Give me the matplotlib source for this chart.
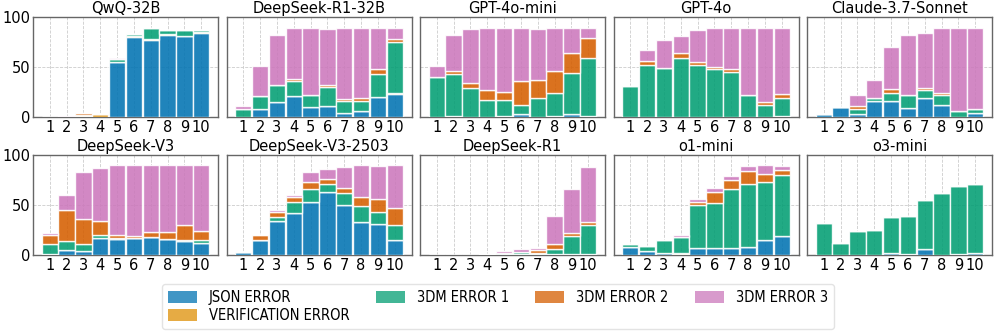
import matplotlib
matplotlib.use("Agg")
import matplotlib.pyplot as plt
from matplotlib.patches import Patch
from matplotlib import font_manager as fm
import numpy as np

models = ["QwQ-32B", "DeepSeek-R1-32B", "GPT-4o-mini", "GPT-4o", "Claude-3.7-Sonnet",
          "DeepSeek-V3", "DeepSeek-V3-2503", "DeepSeek-R1", "o1-mini", "o3-mini"]
x_labels = ["1", "2", "3", "4", "5", "6", "7", "8", "9", "10"]
series_names = ["JSON ERROR", "VERIFICATION ERROR", "3DM ERROR 1", "3DM ERROR 2", "3DM ERROR 3"]

json_err = {
    "QwQ-32B":           [0, 0, 1, 0, 55, 80, 77, 82, 81, 84],
    "DeepSeek-R1-32B":   [0, 8, 15, 21, 10, 11, 4, 6, 20, 23],
    "GPT-4o-mini":       [0, 1, 0, 0, 1, 3, 0.5, 1, 3, 1],
    "GPT-4o":            [0, 0, 0, 0, 0, 0, 0, 0, 0, 1],
    "Claude-3.7-Sonnet": [3, 10, 3, 16, 16, 9, 19, 12, 0, 4],
    "DeepSeek-V3":       [1, 5, 4, 17, 16, 17, 18, 16, 14, 12],
    "DeepSeek-V3-2503":  [3, 15, 34, 42, 53, 63, 50, 33, 31, 15],
    "DeepSeek-R1":       [0, 0, 0, 0, 0, 0, 0, 0, 0, 0],
    "o1-mini":           [8, 4, 2, 1, 7, 7, 7, 8, 15, 19],
    "o3-mini":           [0, 0, 0, 0, 2, 1, 6, 0.5, 1, 2],
}
verif_err = {
    "QwQ-32B":           [0, 0, 1, 3, 0, 1, 1, 1, 0, 1],
    "DeepSeek-R1-32B":   [0, 0, 0, 0, 0, 0, 0, 0, 0, 1],
    "GPT-4o-mini":       [0, 0, 0, 0, 0, 0, 0, 0, 0, 0],
    "GPT-4o":            [0, 0, 0, 0, 0, 0, 0, 0, 0, 0],
    "Claude-3.7-Sonnet": [0, 0, 0, 0, 0, 0, 0, 0, 0, 0],
    "DeepSeek-V3":       [0, 0, 0, 0, 0, 0, 0, 0, 0, 0],
    "DeepSeek-V3-2503":  [0, 0, 0, 0, 0, 0, 0, 0, 0, 0],
    "DeepSeek-R1":       [0, 0, 0, 1.5, 1, 1, 1, 1, 1, 1],
    "o1-mini":           [0, 0, 0, 1, 0, 0, 0, 0, 0, 0],
    "o3-mini":           [0, 0, 0, 0, 0, 0, 0, 0, 0, 0],
}
dm1_err = {
    "QwQ-32B":           [0, 0, 0, 0, 3, 2, 11, 4.5, 6.5, 2],
    "DeepSeek-R1-32B":   [8, 13.5, 17, 15, 12, 19, 12, 10, 23, 51],
    "GPT-4o-mini":       [40, 42, 29, 17, 16, 9, 19, 23, 41, 58],
    "GPT-4o":            [31, 52, 49, 59, 52, 48, 45, 22, 12, 18],
    "Claude-3.7-Sonnet": [0, 0, 5, 3, 8, 13, 8, 10, 6, 4],
    "DeepSeek-V3":       [10, 9, 7, 3, 1, 0, 0, 0, 1, 3],
    "DeepSeek-V3-2503":  [0, 0, 4, 11, 13, 8, 12, 16, 12, 15],
    "DeepSeek-R1":       [0, 0, 0, 0, 1, 2, 1, 5, 18, 29],
    "o1-mini":           [3, 5, 13, 16, 43, 45, 59, 63, 58, 61],
    "o3-mini":           [32, 12, 24, 25, 36, 38, 49, 62, 68, 69],
}
dm2_err = {
    "QwQ-32B":           [0, 0, 2, 0, 0, 0, 0, 0, 0, 0],
    "DeepSeek-R1-32B":   [0, 0, 0, 2, 0, 2, 2, 3, 5, 3],
    "GPT-4o-mini":       [0, 3, 5, 10, 8, 24, 18, 22, 20, 20],
    "GPT-4o":            [0, 4, 0, 5, 3, 2, 3, 0, 3, 4],
    "Claude-3.7-Sonnet": [0, 0, 3, 0, 4, 0, 2, 2, 0, 0],
    "DeepSeek-V3":       [9, 31, 25, 14, 3, 2, 5, 7, 15, 9],
    "DeepSeek-V3-2503":  [0, 5, 5, 5, 7, 5, 5, 9, 13, 17],
    "DeepSeek-R1":       [0, 0, 0, 0, 0, 0, 3, 5, 3, 3],
    "o1-mini":           [0, 0, 0, 0, 3, 11, 9, 13, 8, 5],
    "o3-mini":           [0, 0, 0, 0, 0, 0, 0, 0, 0, 0],
}
dm3_err = {
    "QwQ-32B":           [0, 1, 0, 0, 1, 0, 0, 0, 0, 0],
    "DeepSeek-R1-32B":   [3, 30, 50, 51, 67, 56, 71, 70, 41, 11],
    "GPT-4o-mini":       [11, 36, 54, 62, 64, 53, 51, 43, 25, 10],
    "GPT-4o":            [0, 11, 28, 17, 32, 39, 41, 67, 74, 66],
    "Claude-3.7-Sonnet": [0, 0, 11, 18, 42, 60, 55, 65, 83, 81],
    "DeepSeek-V3":       [2, 15, 47, 53, 70, 71, 67, 67, 60, 66],
    "DeepSeek-V3-2503":  [0, 0, 2, 2, 10, 10, 21, 32, 33, 43],
    "DeepSeek-R1":       [0, 0, 0, 0, 2.5, 3.5, 2, 28, 44, 55],
    "o1-mini":           [0, 0, 0, 2, 3, 4, 4, 5, 9, 4],
    "o3-mini":           [0, 0, 0, 0, 0, 0, 0, 0, 0, 0],
}

series_data = [json_err, verif_err, dm1_err, dm2_err, dm3_err]
colors = ["#0173B2", "#DE8F05", "#029E73", "#D55E00", "#CC78BC"]

plt.rcParams["font.family"] = ["DejaVu Sans"]

# find a condensed sans font for the legend
legend_prop = None
cands = fm.findSystemFonts()
for key in ["DejaVuSansCondensed.ttf", "LiberationSansNarrow-Regular.ttf"]:
    for f in cands:
        if f.endswith(key):
            legend_prop = fm.FontProperties(fname=f, size=10.5)
            break
    if legend_prop is not None:
        break
if legend_prop is None:
    legend_prop = fm.FontProperties(family="DejaVu Sans", size=9)

W, H = 996, 332
fig = plt.figure(figsize=(W / 100, H / 100), dpi=100)

ax_w = 185
lefts = [33 + i * 193.5 for i in range(5)]
tops = [17, 155]
ax_h = 100

x = np.arange(1, 11)
for idx, m in enumerate(models):
    r, c = divmod(idx, 5)
    ax = fig.add_axes([lefts[c] / W, (H - tops[r] - ax_h) / H, ax_w / W, ax_h / H])
    bottom = np.zeros(10)
    for s, col in zip(series_data, colors):
        vals = np.array(s[m], dtype=float)
        ax.bar(x, vals, width=0.97, bottom=bottom, color=col, alpha=0.88,
               edgecolor="white", linewidth=1.0, zorder=3)
        bottom += vals
    ax.set_ylim(0, 100)
    ax.set_xlim(0, 11)
    ax.set_xticks(x)
    ax.set_xticklabels(x_labels, fontsize=10.5)
    ax.set_yticks([0, 50, 100])
    if c == 0:
        ax.set_yticklabels(["0", "50", "100"], fontsize=10.5)
    else:
        ax.set_yticklabels([])
    ax.tick_params(length=0, pad=2)
    ax.grid(True, linestyle="--", color="#cccccc", linewidth=0.6, zorder=0)
    for sp in ax.spines.values():
        sp.set_color("#666666")
        sp.set_linewidth(1.0)
    ax.set_title(m, fontsize=10.5, pad=3)

handles = [Patch(facecolor=col, alpha=0.75, edgecolor="none") for col in colors]
leg = fig.legend(handles, series_names, ncol=4, loc="center",
                 bbox_to_anchor=(0.5, 1 - 306.5 / H),
                 prop=legend_prop,
                 frameon=True, handlelength=2.0, handleheight=0.9,
                 handletextpad=0.8, columnspacing=1.8, labelspacing=0.25,
                 borderpad=0.4)
leg.get_frame().set_edgecolor("#dddddd")

fig.savefig("out.png", dpi=100)
